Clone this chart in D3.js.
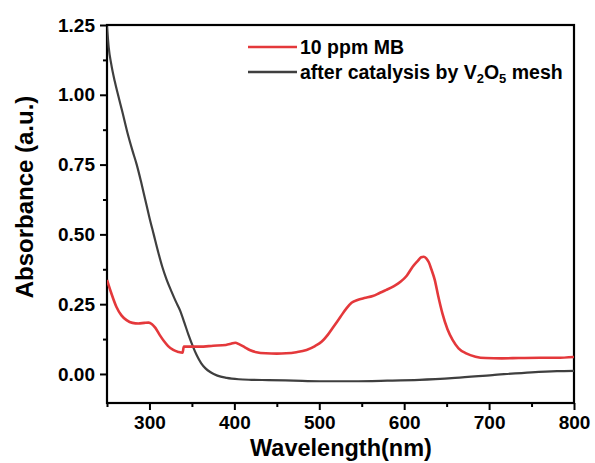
<!DOCTYPE html>
<html>
<head>
<meta charset="utf-8">
<script src="https://cdn.jsdelivr.net/npm/d3@7"></script>
<style>
	body { margin: 0; background: #fff; }
	text { font-family: 'Liberation Sans', Arial, sans-serif; font-weight: bold; fill: #000; }
</style>
</head>
<body>
<script>
// spectrum of the dye before catalysis
const mbWavelength = [250, 255, 261, 267, 273, 280, 287, 294, 299, 303, 307, 312, 317, 322, 328, 334, 339, 340.5, 345, 359, 375, 390, 396, 401, 406, 412, 418, 426, 437, 450, 461, 473, 485, 495, 503, 510, 517, 525, 532, 538, 545, 553, 563, 571, 579, 588, 596, 603, 610, 616, 620, 623, 626, 629, 632, 636, 640, 645, 651, 657, 664, 673, 684, 696, 715, 735, 760, 780, 800]
const mbAbsorbance = [0.337, 0.29, 0.241, 0.21, 0.193, 0.183, 0.181, 0.183, 0.184, 0.178, 0.165, 0.14, 0.118, 0.1, 0.086, 0.079, 0.076, 0.098, 0.098, 0.098, 0.101, 0.104, 0.108, 0.112, 0.106, 0.096, 0.086, 0.078, 0.074, 0.073, 0.074, 0.078, 0.086, 0.1, 0.116, 0.14, 0.17, 0.205, 0.235, 0.255, 0.265, 0.272, 0.279, 0.29, 0.301, 0.315, 0.331, 0.352, 0.384, 0.405, 0.418, 0.42, 0.414, 0.4, 0.375, 0.337, 0.28, 0.217, 0.16, 0.122, 0.092, 0.074, 0.062, 0.057, 0.056, 0.057, 0.058, 0.058, 0.061]

// spectrum after catalysis by the V2O5 mesh
const catWavelength = [250, 252, 255, 259, 263, 268, 274, 280, 285, 290, 295, 300, 305, 310, 315, 320, 326, 331, 336, 341, 346, 351, 356, 361, 366, 372, 380, 391, 405, 420, 440, 470, 500, 540, 580, 618, 660, 704, 750, 780, 800]
const catAbsorbance = [1.245, 1.17, 1.11, 1.05, 1.0, 0.94, 0.865, 0.8, 0.75, 0.69, 0.625, 0.56, 0.5, 0.44, 0.385, 0.34, 0.295, 0.26, 0.228, 0.185, 0.14, 0.1, 0.065, 0.038, 0.02, 0.006, -0.006, -0.014, -0.019, -0.021, -0.022, -0.024, -0.026, -0.026, -0.024, -0.021, -0.014, -0.004, 0.006, 0.01, 0.011]

const xTicks = [300, 400, 500, 600, 700, 800]
const xMinor = [250, 350, 450, 550, 650, 750]
const yTicks = [0, 0.25, 0.5, 0.75, 1.0, 1.25]
const yMinor = [0.125, 0.375, 0.625, 0.875, 1.125]

const seriesNames = ['10 ppm MB', 'after catalysis by V']
const seriesColors = ['#e4383b', '#3f3f3f']

// afmetingen
const margin = { top: 25, bottom: 60, left: 107, right: 21 }
const width = 595 - margin.left - margin.right
const height = 463 - margin.top - margin.bottom

const svg = d3.select('body').append('svg').attr('width', 595).attr('height', 463)
const g = svg.append('g').attr('transform', `translate(${margin.left},${margin.top})`)

const xscale = d3.scaleLinear().domain([250, 800]).range([0, width])
const yscale = d3.scaleLinear().domain([-0.104, 1.25]).range([height, 0])

// minor ticks first so the major axis draws over them
g.append('g')
	.attr('transform', `translate(0,${height})`)
	.call(d3.axisBottom(xscale).tickValues(xMinor).tickSize(4).tickFormat('').tickSizeOuter(0))
	.call(a => a.select('.domain').remove())
g.append('g')
	.call(d3.axisLeft(yscale).tickValues(yMinor).tickSize(4).tickFormat('').tickSizeOuter(0))
	.call(a => a.select('.domain').remove())

const g_xaxis = g.append('g')
	.attr('transform', `translate(0,${height})`)
	.call(d3.axisBottom(xscale).tickValues(xTicks).tickSize(7).tickPadding(6).tickSizeOuter(0))
const g_yaxis = g.append('g')
	.call(d3.axisLeft(yscale).tickValues(yTicks).tickSize(7).tickPadding(5).tickFormat(d3.format('.2f')).tickSizeOuter(0))

g.selectAll('.tick line').attr('stroke', '#000').attr('stroke-width', 2)
g.selectAll('.tick text').attr('font-size', 19).attr('fill', '#000')
g_xaxis.selectAll('.tick text').attr('dy', '0.66em')

// frame round the plot
g.append('rect')
	.attr('width', width)
	.attr('height', height)
	.attr('fill', 'none')
	.attr('stroke', '#000')
	.attr('stroke-width', 2.2)

svg.append('clipPath').attr('id', 'clip').append('rect').attr('width', width).attr('height', height)

const line = d3.line()
	.x(d => xscale(d[0]))
	.y(d => yscale(d[1]))
	.curve(d3.curveMonotoneX)

const catData = d3.zip(catWavelength, catAbsorbance)
const mbData = d3.zip(mbWavelength, mbAbsorbance)

const plot = g.append('g').attr('clip-path', 'url(#clip)')
plot.append('path').datum(catData).attr('d', line)
	.attr('fill', 'none').attr('stroke', seriesColors[1]).attr('stroke-width', 2.2)
plot.append('path').datum(mbData).attr('d', line)
	.attr('fill', 'none').attr('stroke', seriesColors[0]).attr('stroke-width', 2.6)

// as titels
svg.append('text')
	.attr('x', 341)
	.attr('y', 456)
	.attr('text-anchor', 'middle')
	.attr('font-size', 23.5)
	.text('Wavelength(nm)')
svg.append('text')
	.attr('transform', 'translate(33,197) rotate(-90)')
	.attr('text-anchor', 'middle')
	.attr('font-size', 24)
	.text('Absorbance (a.u.)')

// legenda
const legend = svg.append('g')
seriesNames.forEach((name, i) => {
	const y = 47 + i * 25
	legend.append('line')
		.attr('x1', 248).attr('x2', 297)
		.attr('y1', y).attr('y2', y)
		.attr('stroke', seriesColors[i])
		.attr('stroke-width', 2.6)
	const t = legend.append('text')
		.attr('x', 300)
		.attr('y', y + 7)
		.attr('font-size', 19.5)
		.text(name)
	if (i === 1) {
		// V2O5 with subscripts
		t.append('tspan').attr('font-size', 13).attr('dy', 4).text('2')
		t.append('tspan').attr('dy', -4).text('O')
		t.append('tspan').attr('font-size', 13).attr('dy', 4).text('5')
		t.append('tspan').attr('dy', -4).text(' mesh')
	}
})
</script>
</body>
</html>
